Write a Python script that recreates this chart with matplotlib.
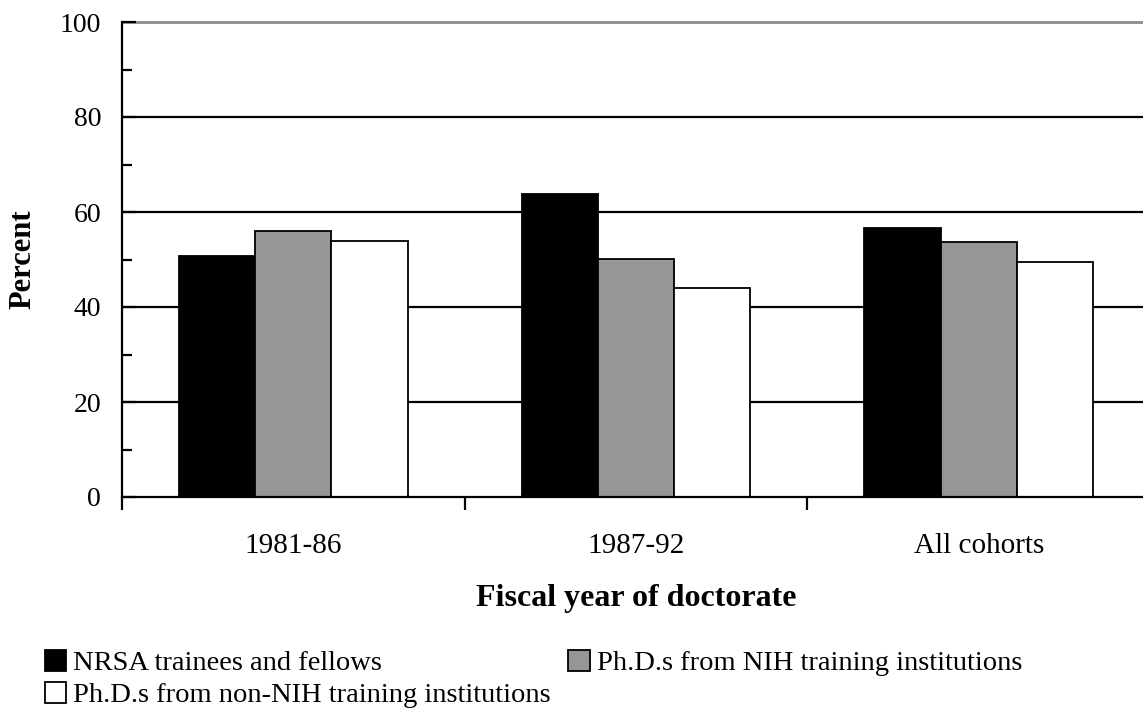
import matplotlib
matplotlib.use("Agg")
import matplotlib.pyplot as plt
from matplotlib.patches import Patch
from matplotlib.ticker import MultipleLocator
import numpy as np

categories = ["1981-86", "1987-92", "All cohorts"]
series_names = ["NRSA trainees and fellows",
                "Ph.D.s from NIH training institutions",
                "Ph.D.s from non-NIH training institutions"]
nrsa = [50.8, 63.8, 56.7]
nih = [55.9, 50.1, 53.7]
non_nih = [53.9, 44.0, 49.4]
colors = ["#000000", "#969696", "#ffffff"]

plt.rcParams['font.family'] = ['Liberation Serif', 'DejaVu Serif']

W, H = 1143, 726
fig = plt.figure(figsize=(W / 100, H / 100), dpi=100)
left, right, top, bottom = 122, 1150, 22, 497
ax = fig.add_axes([left / W, 1 - bottom / H, (right - left) / W, (bottom - top) / H])

x = np.arange(len(categories)) + 0.5
bw = 2 / 9
for i, (vals, col) in enumerate(zip([nrsa, nih, non_nih], colors)):
    ax.bar(x + (i - 1) * bw, vals, width=bw, color=col, edgecolor="black",
           linewidth=1.3, zorder=3)

ax.set_xlim(0, 3)
ax.set_ylim(0, 100)
for yv in [20, 40, 60, 80]:
    ax.axhline(yv, color="black", linewidth=1.6, zorder=1)
ax.axhline(100, color="#8c8c8c", linewidth=2.0, zorder=1, clip_on=False)

ax.spines["top"].set_visible(False)
ax.spines["right"].set_visible(False)
for s in ["left", "bottom"]:
    ax.spines[s].set_linewidth(1.6)
    ax.spines[s].set_zorder(4)

ax.yaxis.set_major_locator(MultipleLocator(20))
ax.yaxis.set_minor_locator(MultipleLocator(10))
ax.tick_params(axis="y", which="major", direction="in", length=10, width=1.6,
               labelsize=20, pad=15)
ax.tick_params(axis="y", which="minor", direction="in", length=7, width=1.6)

ax.set_xticks([0, 1, 2, 3])
ax.set_xticklabels([])
ax.set_xticks(x, minor=True)
ax.set_xticklabels(categories, minor=True)
ax.tick_params(axis="x", which="major", direction="out", length=9, width=1.6)
ax.tick_params(axis="x", which="minor", length=0, labelsize=21, pad=26)

ax.set_ylabel("Percent", fontsize=22, fontweight="bold")
ax.yaxis.set_label_coords(-(122 - 37) / (right - left), 0.5)
ax.set_xlabel("Fiscal year of doctorate", fontsize=23, fontweight="bold")
ax.xaxis.set_label_coords(0.5, -(584 - bottom) / (bottom - top))

order = [0, 2, 1]
handles = [Patch(facecolor=colors[i], edgecolor="black", linewidth=1.3) for i in order]
labels = [series_names[i] for i in order]
fig.legend(handles, labels, loc="upper left",
           bbox_to_anchor=(45 / W, 1 - 650 / H), ncol=2, frameon=False,
           fontsize=20.5, handlelength=0.75, handleheight=0.75, handletextpad=0.25,
           columnspacing=0.6, labelspacing=0.2, borderaxespad=0, borderpad=0)

fig.savefig("out.png", dpi=100)
